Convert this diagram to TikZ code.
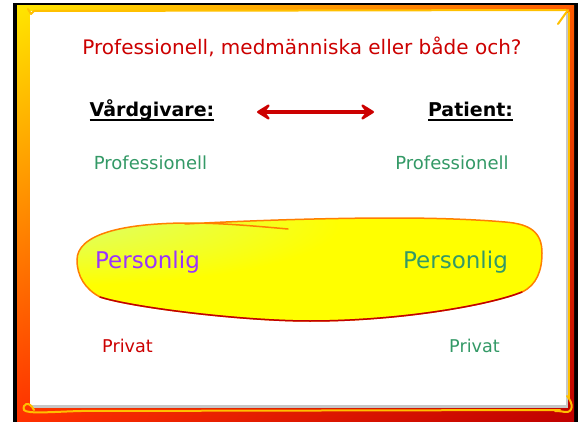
\documentclass[tikz,border=0pt]{standalone}
\usepackage{fontspec}
\setmainfont{DejaVu Sans}
\usepackage{tikz}
\usetikzlibrary{arrows.meta, shadings}
\definecolor{accR}{HTML}{CC0000}
\definecolor{accG}{HTML}{339966}
\definecolor{accP}{HTML}{9933FF}
\definecolor{frYel}{HTML}{FFE600}
\definecolor{frOra}{HTML}{FF5A00}
\definecolor{frRed}{HTML}{FF3000}
\definecolor{frDrk}{HTML}{C00000}
\definecolor{blobY}{HTML}{FFFF00}
\definecolor{blobG}{HTML}{CCFF99}
\definecolor{blobE}{HTML}{FF7F00}
\definecolor{hiY}{HTML}{FFC000}
\pgfdeclareradialshading{blobglow}{\pgfpoint{-38bp}{32bp}}{%
  color(0bp)=(blobG); color(9bp)=(blobG!70!blobY); color(30bp)=(blobY); color(100bp)=(blobY)}
\newcommand{\thickul}[1]{\vtop{\hbox{\raisebox{0pt}[\height][0pt]{#1}}\kern2pt\hrule height 1.8pt}}
\tikzset{
  txt/.style     ={inner sep=0pt, anchor=base},
  ttl/.style     ={txt, text=accR, font=\fontsize{20}{24}\selectfont},
  head/.style    ={txt, font=\bfseries\fontsize{19}{23}\selectfont},
  role/.style    ={txt, font=\fontsize{18}{22}\selectfont},
  pers/.style    ={txt, font=\fontsize{23}{27}\selectfont},
  priv/.style    ={txt, font=\fontsize{17.6}{21}\selectfont},
  link/.style    ={{Stealth[length=17pt, width=21pt, inset=8pt, round]}-{Stealth[length=17pt, width=21pt, inset=8pt, round]},
                   accR, line width=4pt},
  edgeline/.style={hiY, line width=2pt, line cap=round, line join=round},
  blobline/.style={blobE, line width=1.5pt, line cap=round},
}
\begin{document}
\begin{tikzpicture}[x=1pt, y=-1pt]
\useasboundingbox (0,0) rectangle (578,422);
\fill[white] (0,0) rectangle (578,422);

% slide frame
\fill[black] (13,3) rectangle (578,422);
\shade[upper left=frYel, upper right=frOra, lower left=frRed, lower right=frDrk]
  (17,6) rectangle (574,422);
\fill[black!22] (32,13) rectangle (568,408);
\fill[white] (30,11) rectangle (566,405);

% hand-drawn strokes on the frame
\draw[edgeline] (28,9) -- (31,14) -- (34,11) -- (566,10);
\draw[edgeline] (558,24) -- (568,10);
\draw[edgeline, line width=1.5pt] (569,12) -- (569,398);
\draw[edgeline] (34,410) .. controls (29,400) and (22,404) .. (24,410)
  .. controls (27,414) and (50,412) .. (80,411) -- (560,410);
\draw[edgeline] (567,396) .. controls (574,404) and (573,413) .. (565,412)
  .. controls (560,411) and (556,411) .. (555,411);

% yellow blob
\shade[shading=blobglow] (190,223) .. controls (120,223) and (77,235) .. (77,260)
  .. controls (77,276) and (85,289) .. (100,297)
  .. controls (130,307) and (240,321) .. (310,321)
  .. controls (400,321) and (490,305) .. (522,292)
  .. controls (537,285) and (542,270) .. (542,253)
  .. controls (542,232) and (530,224) .. (505,222)
  .. controls (470,219) and (430,218) .. (393,218)
  .. controls (320,218) and (240,222) .. cycle;
\draw[blobline] (288,229) .. controls (255,226) and (220,223) .. (190,223)
  .. controls (120,223) and (77,235) .. (77,260)
  .. controls (77,276) and (85,289) .. (100,297)
  .. controls (130,307) and (240,321) .. (310,321)
  .. controls (400,321) and (490,305) .. (522,292)
  .. controls (537,285) and (542,270) .. (542,253)
  .. controls (542,232) and (530,224) .. (505,222)
  .. controls (470,219) and (430,218) .. (393,218)
  .. controls (320,218) and (240,221) .. (185,224);
\draw[blobline, frDrk] (100,297)
  .. controls (130,307) and (240,321) .. (310,321)
  .. controls (400,321) and (490,305) .. (522,292);

% texts
\node[ttl] (title) at (302,55) {Professionell, medmänniska eller både och?};
\node[head] (giver) at (152,117) {\thickul{Vårdgivare:}};
\node[head] (patient) at (470.5,117) {\thickul{Patient:}};
\coordinate (lnkL) at (257,112);
\coordinate (lnkR) at (374,112);
\draw[link] (lnkL) -- (lnkR);

\node[role, text=accG] (profL) at (150.5,170) {Professionell};
\node[role, text=accG] (profR) at (452,170) {Professionell};
\node[pers, text=accP] (persL) at (147.5,268) {Personlig};
\node[pers, text=accG] (persR) at (455.5,268) {Personlig};
\node[priv, text=accR] (privL) at (127.5,352) {Privat};
\node[priv, text=accG] (privR) at (474.5,352) {Privat};

\end{tikzpicture}
\end{document}
